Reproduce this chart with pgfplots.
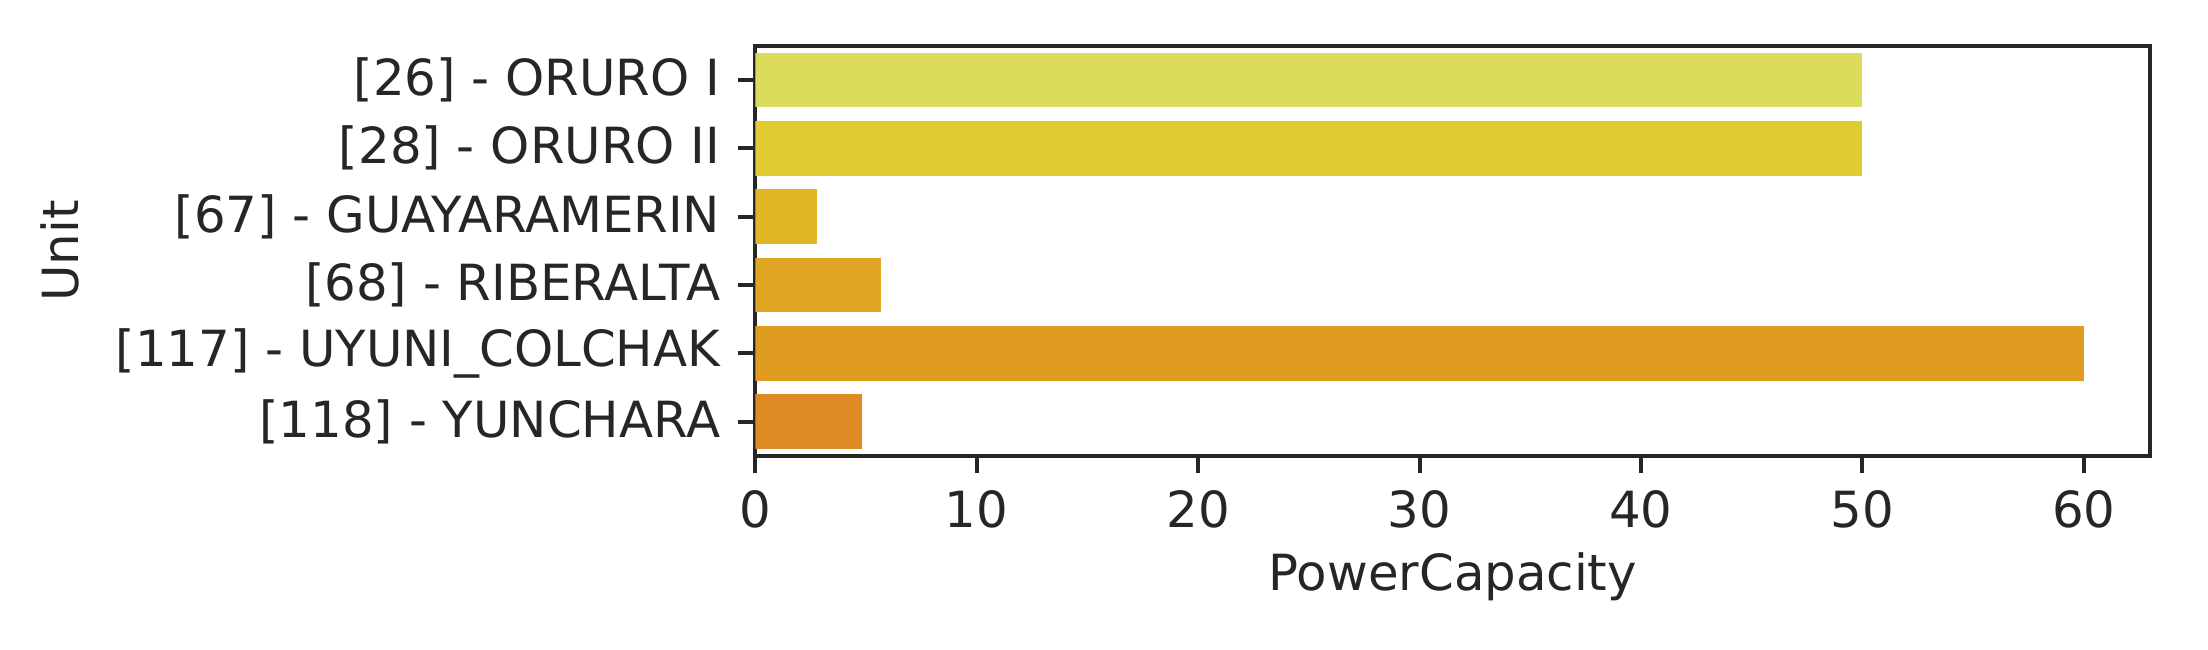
\documentclass[border=0pt]{standalone}
\usepackage{pgfplots}
\pgfplotsset{compat=1.18}
\usepackage{fontspec}
\setmainfont{DejaVu Sans}
\definecolor{axisgray}{HTML}{262626}
\definecolor{c1}{HTML}{DCDC5C}
\definecolor{c2}{HTML}{E0CB33}
\definecolor{c3}{HTML}{E0B526}
\definecolor{c4}{HTML}{DEA622}
\definecolor{c5}{HTML}{DF9C20}
\definecolor{c6}{HTML}{DF8A24}

\begin{document}
\begin{tikzpicture}
\begin{axis}[
 scale only axis,
 width=280pt,height=82.3pt,
 xbar,bar width=0.8,bar shift=0,
 xmin=0,xmax=63,
 ymin=-0.5,ymax=5.5,y dir=reverse,
 ytick={0,...,5},
 yticklabels={{[26] - ORURO I},{[28] - ORURO II},{[67] - GUAYARAMERIN},{[68] - RIBERALTA},{[117] - UYUNI\_COLCHAK},{[118] - YUNCHARA}},
 xtick={0,10,...,60},
 /pgf/number format/assume math mode=true,
 tick align=outside,
 major tick length=3.5pt,
 tick style={axisgray,line width=0.8pt},
 axis line style={axisgray,line width=0.8pt},
 xtick pos=bottom,ytick pos=left,
 ticklabel style={font=\fontsize{10}{12}\selectfont,text=axisgray},
 label style={font=\fontsize{10}{12}\selectfont,text=axisgray},
 xlabel={PowerCapacity},ylabel={Unit},
 xlabel style={yshift=2pt},
 ylabel style={yshift=0.5pt},
 every axis plot/.append style={draw=none},
]
\addplot[fill=c1] coordinates {(50,0)};
\addplot[fill=c2] coordinates {(50,1)};
\addplot[fill=c3] coordinates {(2.8,2)};
\addplot[fill=c4] coordinates {(5.7,3)};
\addplot[fill=c5] coordinates {(60,4)};
\addplot[fill=c6] coordinates {(4.8,5)};
\end{axis}
\useasboundingbox ([xshift=-151.6pt,yshift=-38.8pt]current axis.south west) rectangle ([xshift=11.6pt,yshift=9.2pt]current axis.north east);
\end{tikzpicture}
\end{document}
